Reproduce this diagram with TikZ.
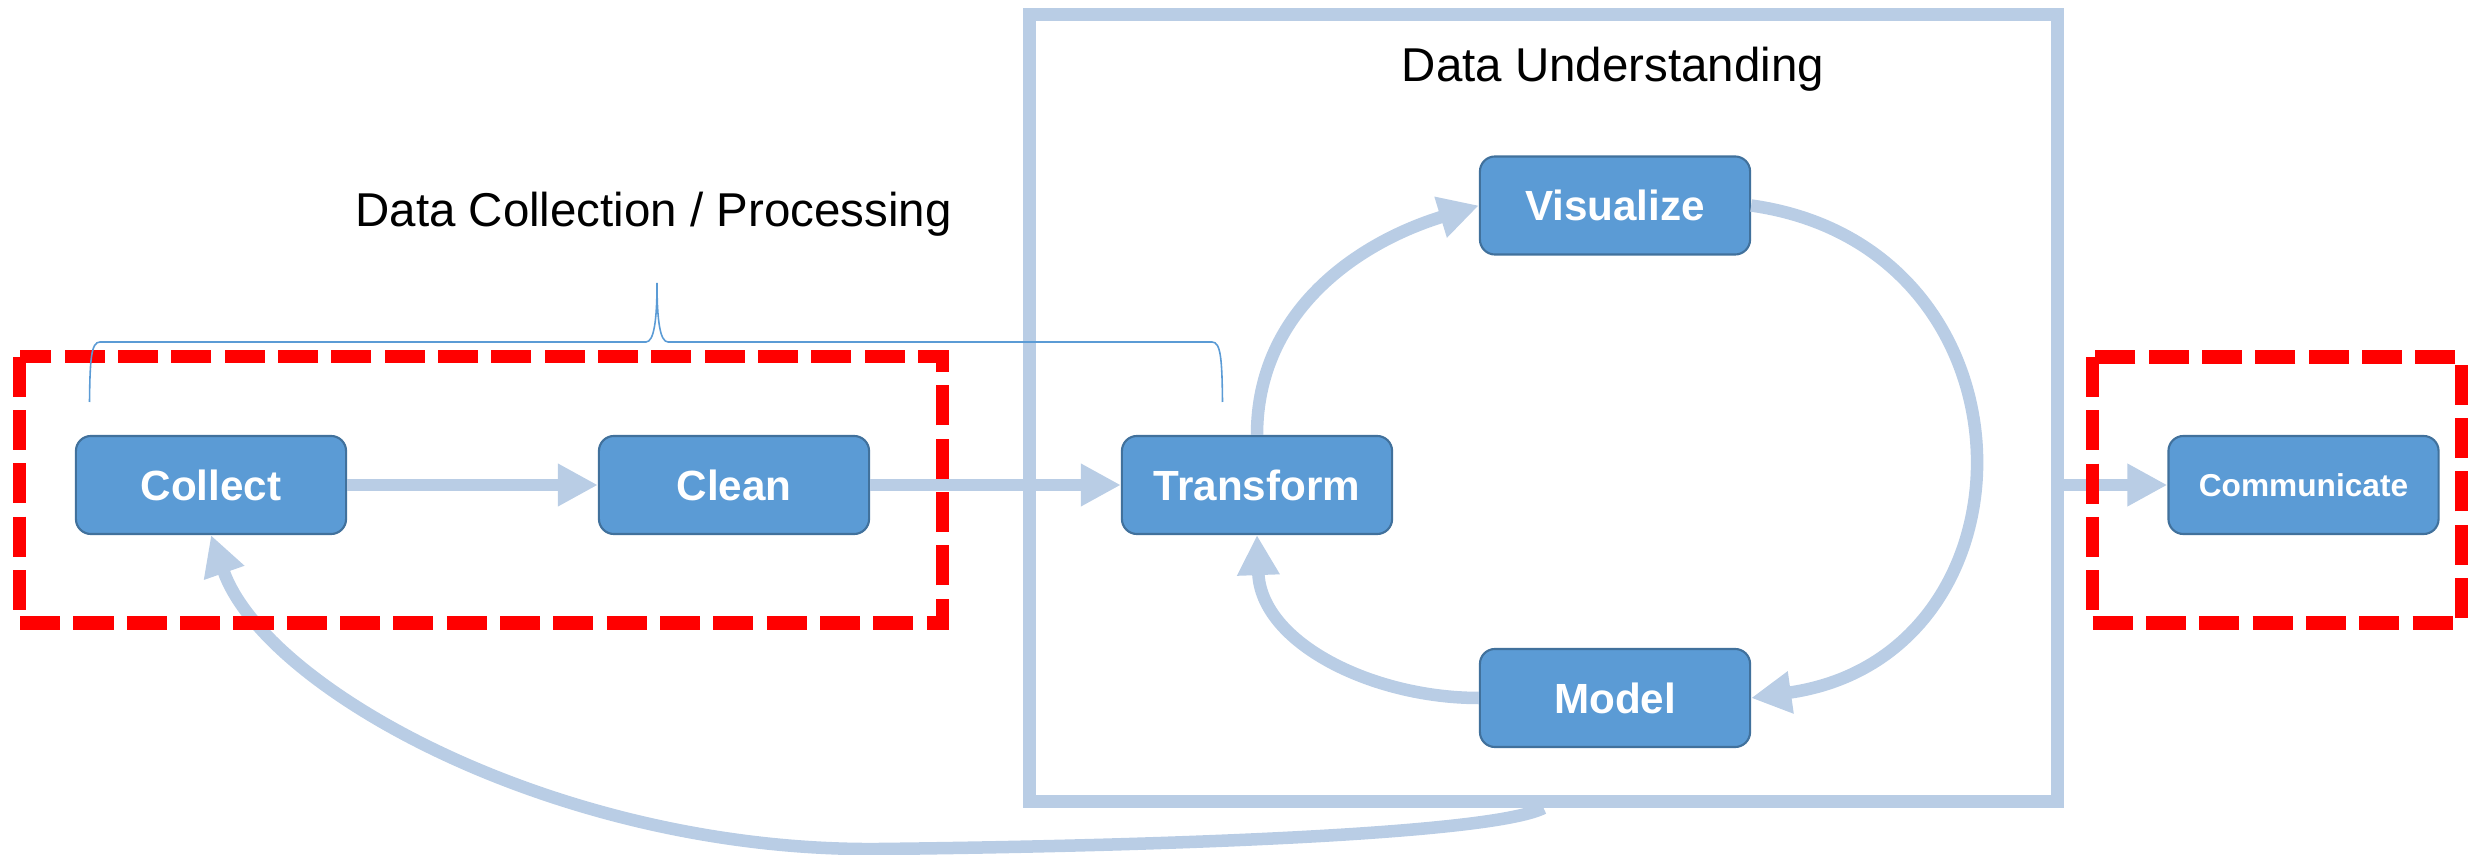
\documentclass[tikz,border=0pt]{standalone}
\usepackage{fontspec}
\setmainfont{Liberation Sans}
\usetikzlibrary{arrows.meta}
\definecolor{stagefill}{HTML}{5B9BD5}
\definecolor{stageline}{HTML}{41719C}
\definecolor{flowblue}{HTML}{B9CDE5}
\definecolor{braceblue}{HTML}{5B9BD5}
\definecolor{groupred}{HTML}{FF0000}

\begin{document}
\begin{tikzpicture}[x=0.01cm, y=-0.01cm,
  stage/.style = {shape=rectangle, rounded corners=1.5mm,
    draw=stageline, line width=0.6pt, fill=stagefill,
    text=white, font=\fontsize{12}{14}\selectfont\bfseries,
    minimum width=2.7cm, minimum height=0.98cm, inner sep=0pt},
  flow/.style = {draw=flowblue, line width=1.25mm,
    -{Triangle[length=4mm,width=4mm]}},
  group/.style = {draw=groupred, line width=1.3mm,
    dash pattern=on 4mm off 1.33mm},
  title/.style = {font=\fontsize{13.5}{16}\selectfont, anchor=base}]
 \useasboundingbox (0,0) rectangle (2469,855);

 \node[draw=flowblue, line width=1.25mm, minimum width=10.27cm,
   minimum height=7.87cm] (understanding) at (1543.5,408) {};
 \node[title] (understandlabel) at (1613,82) {Data Understanding};
 \node[title] (collectlabel) at (653.5,227) {Data Collection / Processing};

 \node[stage] (collect) at (211,485) {Collect};
 \node[stage] (clean) at (734,485) {Clean};
 \node[stage] (transform) at (1257,485) {Transform};
 \node[stage] (visualize) at (1615,205.5) {Visualize};
 \node[stage] (model) at (1615,698) {Model};
 \node[stage, font=\fontsize{9}{11}\selectfont\bfseries]
   (communicate) at (2303.5,485) {Communicate};
 \coordinate (loopbottom) at (879,849);

 \draw[flow] (collect) -- (clean);
 \draw[flow] (clean) -- (transform);
 \draw[flow] (understanding.east |- communicate.west) -- (communicate.west);
 \draw[flow] (transform.north) to[out=90, in=197] (visualize.west);
 \draw[flow] (visualize.east) to[out=-8, in=8, looseness=1.55] (model.east);
 \draw[flow] (model.west) to[out=180, in=-88] (transform.south);
 \draw[flow] (understanding.south) .. controls (1490,835) and (1150,846) .. (loopbottom)
   .. controls (560,852) and (265,690) .. (collect.south);

 \draw[group] (19.8,356.7) rectangle (942.6,623);
 \draw[group] (2092,357) rectangle (2461,623);

 \draw[braceblue, line width=0.45pt] (89.5,402) .. controls (90,360) and (91,342) .. (100,342)
   -- (646,342) .. controls (654,342) and (657,320) .. (657,283)
   .. controls (657,320) and (660,342) .. (668,342) -- (1212,342)
   .. controls (1221,342) and (1222,360) .. (1222.5,402);
\end{tikzpicture}
\end{document}
